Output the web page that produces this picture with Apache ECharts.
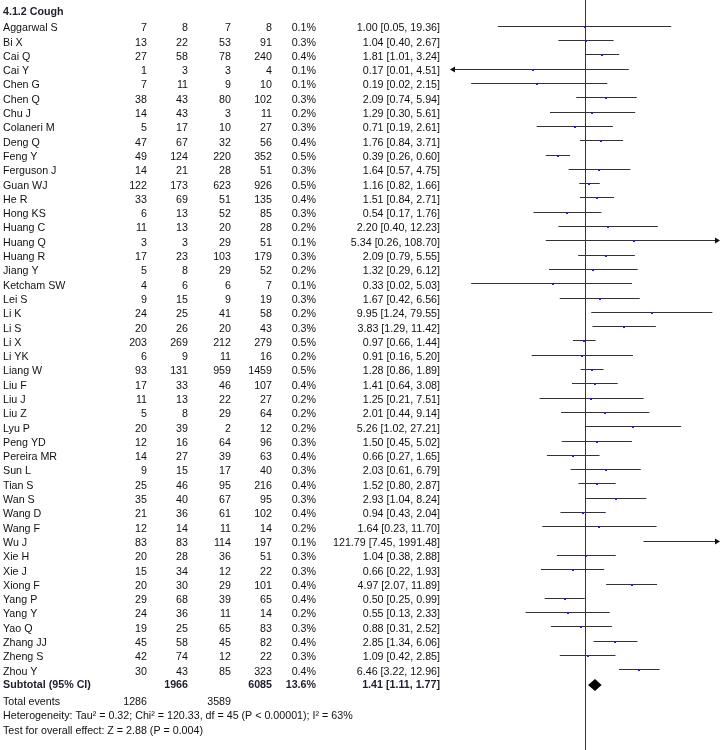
<!DOCTYPE html>
<html>
<head>
<meta charset="utf-8">
<script src="https://cdn.jsdelivr.net/npm/echarts@6/dist/echarts.min.js"></script>
<style>
html,body{margin:0;padding:0;background:#fff;}
#chart{width:721px;height:750px;}
</style>
</head>
<body>
<div id="chart"></div>
<script>
// ---------- data ----------
const groupTitle = '4.1.2 Cough';
const studies = ['Aggarwal S','Bi X','Cai Q','Cai Y','Chen G','Chen Q','Chu J','Colaneri M','Deng Q','Feng Y','Ferguson J','Guan WJ','He R','Hong KS','Huang C','Huang Q','Huang R','Jiang Y','Ketcham SW','Lei S','Li K','Li S','Li X','Li YK','Liang W','Liu F','Liu J','Liu Z','Lyu P','Peng YD','Pereira MR','Sun L','Tian S','Wan S','Wang D','Wang F','Wu J','Xie H','Xie J','Xiong F','Yang P','Yang Y','Yao Q','Zhang JJ','Zheng S','Zhou Y'];
const expEvents = [7,13,27,1,7,38,14,5,47,49,14,122,33,6,11,3,17,5,4,9,24,20,203,6,93,17,11,5,20,12,14,9,25,35,21,12,83,20,15,20,29,24,19,45,42,30];
const expTotal  = [8,22,58,3,11,43,43,17,67,124,21,173,69,13,13,3,23,8,6,15,25,26,269,9,131,33,13,8,39,16,27,15,46,40,36,14,83,28,34,30,68,36,25,58,74,43];
const ctrlEvents= [7,53,78,3,9,80,3,10,32,220,28,623,51,52,20,29,103,29,6,9,41,20,212,11,959,46,22,29,2,64,39,17,95,67,61,11,114,36,12,29,39,11,65,45,12,85];
const ctrlTotal = [8,91,240,4,10,102,11,27,56,352,51,926,135,85,28,51,179,52,7,19,58,43,279,16,1459,107,27,64,12,96,63,40,216,95,102,14,197,51,22,101,65,14,83,82,22,323];
const weights   = ['0.1%','0.3%','0.4%','0.1%','0.1%','0.3%','0.2%','0.3%','0.4%','0.5%','0.3%','0.5%','0.4%','0.3%','0.2%','0.1%','0.3%','0.2%','0.1%','0.3%','0.2%','0.3%','0.5%','0.2%','0.5%','0.4%','0.2%','0.2%','0.2%','0.3%','0.4%','0.3%','0.4%','0.3%','0.4%','0.2%','0.1%','0.3%','0.3%','0.4%','0.4%','0.2%','0.3%','0.4%','0.3%','0.4%'];
const oddsRatio = [1.00,1.04,1.81,0.17,0.19,2.09,1.29,0.71,1.76,0.39,1.64,1.16,1.51,0.54,2.20,5.34,2.09,1.32,0.33,1.67,9.95,3.83,0.97,0.91,1.28,1.41,1.25,2.01,5.26,1.50,0.66,2.03,1.52,2.93,0.94,1.64,121.79,1.04,0.66,4.97,0.50,0.55,0.88,2.85,1.09,6.46];
const ciLower   = [0.05,0.40,1.01,0.01,0.02,0.74,0.30,0.19,0.84,0.26,0.57,0.82,0.84,0.17,0.40,0.26,0.79,0.29,0.02,0.42,1.24,1.29,0.66,0.16,0.86,0.64,0.21,0.44,1.02,0.45,0.27,0.61,0.80,1.04,0.43,0.23,7.45,0.38,0.22,2.07,0.25,0.13,0.31,1.34,0.42,3.22];
const ciUpper   = [19.36,2.67,3.24,4.51,2.15,5.94,5.61,2.61,3.71,0.60,4.75,1.66,2.71,1.76,12.23,108.70,5.55,6.12,5.03,6.56,79.55,11.42,1.44,5.20,1.89,3.08,7.51,9.14,27.21,5.02,1.65,6.79,2.87,8.24,2.04,11.70,1991.48,2.88,1.93,11.89,0.99,2.33,2.52,6.06,2.85,12.96];
const subtotalLabel = 'Subtotal (95% CI)';
const subtotalTotals = [1966, 6085];
const subtotalWeight = '13.6%';
const pooled = [1.41, 1.11, 1.77];
const totalEvents = [1286, 3589];
const heterogeneityText = 'Heterogeneity: Tau\u00b2 = 0.32; Chi\u00b2 = 120.33, df = 45 (P < 0.00001); I\u00b2 = 63%';
const overallText = 'Test for overall effect: Z = 2.88 (P = 0.004)';
const axisMin = 0.01, axisMax = 100;

// ---------- layout ----------
const W = 721, H = 750;
const ROW0 = 28.3, ROWH = 14.298;
const YMIN = -ROW0 / ROWH, YMAX = (H - ROW0) / ROWH;
const FONT = '10.7px "Liberation Sans", Arial, sans-serif';
const BFONT = 'bold 10.7px "Liberation Sans", Arial, sans-serif';
const TXT = '#111';
const BTXT = '#1e1e2e';
const LINE = '#333';
const colRight = {e1: 147, n1: 188, e2: 231, n2: 272, w: 316, ci: 440};
const rowTitle = -1.12, rowSub = 45.93, rowTot = 47.1, rowHet = 48.12, rowTest = 49.16;

const fmt = v => v.toFixed(2);

function txt(x, y, s, align, bold) {
  return {type: 'text', x: x, y: y, silent: true,
    style: {text: s, font: bold ? BFONT : FONT, fill: bold ? BTXT : TXT, textAlign: align, textVerticalAlign: 'middle'}};
}

const chart = echarts.init(document.getElementById('chart'), null, {renderer: 'canvas'});

const hiddenAxis = {show: false, axisLine: {show: false}, axisTick: {show: false}, axisLabel: {show: false}, splitLine: {show: false}};

chart.setOption({
  backgroundColor: '#fff',
  animation: false,
  grid: [
    {left: 0, top: 0, width: W, height: H},
    {left: 451, top: 0, width: 268, height: H}
  ],
  xAxis: [
    Object.assign({type: 'value', gridIndex: 0, min: 0, max: W}, hiddenAxis),
    Object.assign({type: 'log', logBase: 10, gridIndex: 1, min: axisMin, max: axisMax}, hiddenAxis)
  ],
  yAxis: [
    Object.assign({type: 'value', gridIndex: 0, min: YMIN, max: YMAX, inverse: true}, hiddenAxis),
    Object.assign({type: 'value', gridIndex: 1, min: YMIN, max: YMAX, inverse: true}, hiddenAxis)
  ],
  series: [
    // table text for studies
    {
      type: 'custom', xAxisIndex: 0, yAxisIndex: 0, clip: false,
      data: studies.map((s, i) => [0, i]),
      renderItem: function (params, api) {
        const i = params.dataIndex;
        const y = api.coord([0, api.value(1)])[1];
        const ch = [
          txt(3, y, studies[i], 'left'),
          txt(colRight.e1, y, String(expEvents[i]), 'right'),
          txt(colRight.n1, y, String(expTotal[i]), 'right'),
          txt(colRight.e2, y, String(ctrlEvents[i]), 'right'),
          txt(colRight.n2, y, String(ctrlTotal[i]), 'right'),
          txt(colRight.w, y, weights[i], 'right'),
          txt(colRight.ci, y, fmt(oddsRatio[i]) + ' [' + fmt(ciLower[i]) + ', ' + fmt(ciUpper[i]) + ']', 'right')
        ];
        return {type: 'group', children: ch};
      }
    },
    // header + footer text
    {
      type: 'custom', xAxisIndex: 0, yAxisIndex: 0, clip: false,
      data: [[0, 0]],
      renderItem: function (params, api) {
        const yT = api.coord([0, rowTitle])[1];
        const yS = api.coord([0, rowSub])[1];
        const yE = api.coord([0, rowTot])[1];
        const yH = api.coord([0, rowHet])[1];
        const yZ = api.coord([0, rowTest])[1];
        return {type: 'group', children: [
          txt(3, yT, groupTitle, 'left', true),
          txt(3, yS, subtotalLabel, 'left', true),
          txt(colRight.n1, yS, String(subtotalTotals[0]), 'right', true),
          txt(colRight.n2, yS, String(subtotalTotals[1]), 'right', true),
          txt(colRight.w, yS, subtotalWeight, 'right', true),
          txt(colRight.ci, yS, fmt(pooled[0]) + ' [' + fmt(pooled[1]) + ', ' + fmt(pooled[2]) + ']', 'right', true),
          txt(3, yE, 'Total events', 'left'),
          txt(colRight.e1, yE, String(totalEvents[0]), 'right'),
          txt(colRight.e2, yE, String(totalEvents[1]), 'right'),
          txt(3, yH, heterogeneityText, 'left'),
          txt(3, yZ, overallText, 'left')
        ]};
      }
    },
    // line of no effect
    {
      type: 'custom', xAxisIndex: 1, yAxisIndex: 1, clip: false,
      data: [[1, 0]],
      renderItem: function (params, api) {
        const top = api.coord([1, YMIN]);
        const bot = api.coord([1, YMAX]);
        const x = Math.round(top[0]) + 0.5;
        return {type: 'line', silent: true, shape: {x1: x, y1: top[1], x2: x, y2: bot[1]},
          style: {stroke: LINE, lineWidth: 1}};
      }
    },
    // confidence intervals + point estimates
    {
      type: 'custom', xAxisIndex: 1, yAxisIndex: 1, clip: false,
      data: studies.map((s, i) => [oddsRatio[i], i, ciLower[i], ciUpper[i]]),
      renderItem: function (params, api) {
        const or = api.value(0), row = api.value(1), lo = api.value(2), hi = api.value(3);
        const yc = api.coord([1, row])[1];
        const yi = Math.round(yc - 2.4);
        const yl = yi + 0.5;
        const xl = api.coord([Math.max(lo, axisMin), row])[0];
        const xr = api.coord([Math.min(hi, axisMax), row])[0];
        const ch = [{type: 'line', silent: true, shape: {x1: xl, y1: yl, x2: xr, y2: yl}, style: {stroke: LINE, lineWidth: 1}}];
        if (lo <= axisMin) {
          const t = xl - 1;
          ch.push({type: 'polygon', silent: true, shape: {points: [[t, yl], [t + 5, yl - 3], [t + 5, yl + 3]]}, style: {fill: '#111'}});
        }
        if (hi >= axisMax) {
          const t = xr + 1;
          ch.push({type: 'polygon', silent: true, shape: {points: [[t, yl], [t - 5, yl - 3], [t - 5, yl + 3]]}, style: {fill: '#111'}});
        }
        if (or >= axisMin && or <= axisMax) {
          const xp = Math.round(api.coord([or, row])[0]);
          ch.push({type: 'rect', silent: true, shape: {x: xp - 1, y: yi, width: 2, height: 2}, style: {fill: '#1a1aff'}});
        }
        return {type: 'group', children: ch};
      }
    },
    // pooled diamond
    {
      type: 'custom', xAxisIndex: 1, yAxisIndex: 1, clip: false,
      data: [[pooled[0], rowSub, pooled[1], pooled[2]]],
      renderItem: function (params, api) {
        const c = api.coord([api.value(0), api.value(1)]);
        const l = api.coord([api.value(2), api.value(1)])[0];
        const r = api.coord([api.value(3), api.value(1)])[0];
        const y = c[1];
        return {type: 'polygon', silent: true,
          shape: {points: [[l, y], [c[0], y - 6], [r, y], [c[0], y + 6]]},
          style: {fill: '#000'}};
      }
    }
  ]
});
</script>
</body>
</html>
